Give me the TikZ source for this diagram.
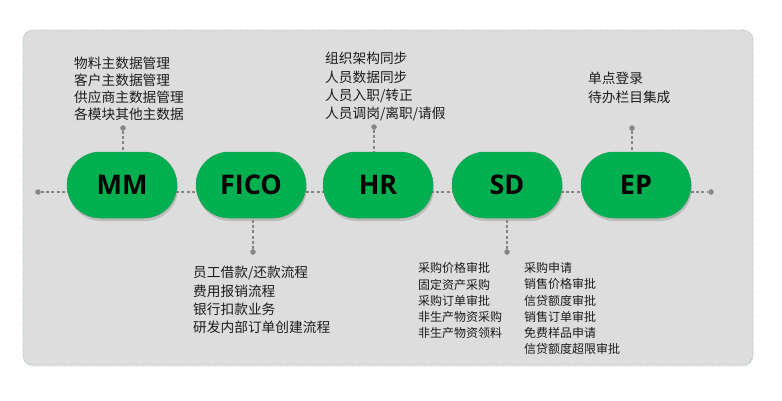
\documentclass[tikz,border=0pt]{standalone}
\usepackage{fontspec}
\setmainfont{Noto Sans CJK SC}
\newfontfamily\pillfont{Open Sans}
\usetikzlibrary{shadows}
\definecolor{panelgray}{HTML}{DDDDDD}
\definecolor{panelborder}{HTML}{9EBFAE}
\definecolor{pillgreen}{HTML}{00B050}
\definecolor{conngray}{HTML}{858585}
\definecolor{txt}{HTML}{1C1C1C}
\tikzset{
  panel/.style={rectangle, rounded corners=10pt, fill=panelgray, draw=panelborder,
    densely dotted, line width=0.8pt, minimum width=730pt, minimum height=335pt,
    drop shadow={opacity=0.12, shadow xshift=0pt, shadow yshift=-2pt}},
  pill/.style={rectangle, rounded corners=33pt, fill=pillgreen, draw=pillgreen!70!gray,
    line width=0.5pt, minimum width=110pt, minimum height=66pt, inner sep=0pt,
    font={\pillfont\bfseries\fontsize{27}{30}\selectfont}, text=black,
    drop shadow={opacity=0.35, shadow xshift=1pt, shadow yshift=-3pt}},
  conn/.style={draw=conngray, dashed, dash pattern=on 3pt off 2.2pt, line width=1.1pt},
  dotn/.style={circle, fill=conngray, inner sep=0pt, minimum size=5.5pt},
  lbl/.style={anchor=north west, inner sep=0pt, align=left, text=txt,
    font={\fontsize{13.7}{17}\selectfont}},
  lblwide/.style={lbl, font={\fontsize{13.7}{18.4}\selectfont}},
  lblsmall/.style={lbl, font={\fontsize{12}{16.2}\selectfont}},
}
\begin{document}
\begin{tikzpicture}[x=1pt,y=-1pt]
\useasboundingbox (0,0) rectangle (782,400);
\fill[white] (0,0) rectangle (782,400);
\node[panel] (bg) at (388,197.5) {};
% dots
\node[dotn] (dl) at (38,192) {};
\node[dotn] (dr) at (711,192) {};
\node[dotn] (dMM) at (123,128) {};
\node[dotn] (dFICO) at (253,252) {};
\node[dotn] (dHR) at (374,127) {};
\node[dotn] (dSD) at (507,252) {};
\node[dotn] (dEP) at (632,128) {};
\draw[conn] (dl) -- (dr);
% pills
\node[pill] (MM) at (122,185) {MM};
\node[pill] (FICO) at (251,185) {FICO};
\node[pill] (HR) at (378,185) {HR};
\node[pill] (SD) at (507,185) {SD};
\node[pill] (EP) at (636,185) {EP};
% vertical connectors
\draw[conn] (dMM) -- (dMM |- MM.north);
\draw[conn] (dFICO) -- (dFICO |- FICO.south);
\draw[conn] (dHR) -- (dHR |- HR.north);
\draw[conn] (dSD) -- (dSD |- SD.south);
\draw[conn] (dEP) -- (dEP |- EP.north);
% labels
\node[lbl] (tMM) at (74,57) {物料主数据管理\\客户主数据管理\\供应商主数据管理\\各模块其他主数据};
\node[lblwide] (tHR) at (325,52) {组织架构同步\\人员数据同步\\人员入职/转正\\人员调岗/离职/请假};
\node[lbl, font={\fontsize{13.7}{19}\selectfont}] (tEP) at (588,72) {单点登录\\待办栏目集成};
\node[lblwide] (tFICO) at (193,266) {员工借款/还款流程\\费用报销流程\\银行扣款业务\\研发内部订单创建流程};
\node[lblsmall] (tSD1) at (418,262.5) {采购价格审批\\固定资产采购\\采购订单审批\\非生产物资采购\\非生产物资领料};
\node[lblsmall] (tSD2) at (524,262.5) {采购申请\\销售价格审批\\信贷额度审批\\销售订单审批\\免费样品申请\\信贷额度超限审批};
\end{tikzpicture}
\end{document}
